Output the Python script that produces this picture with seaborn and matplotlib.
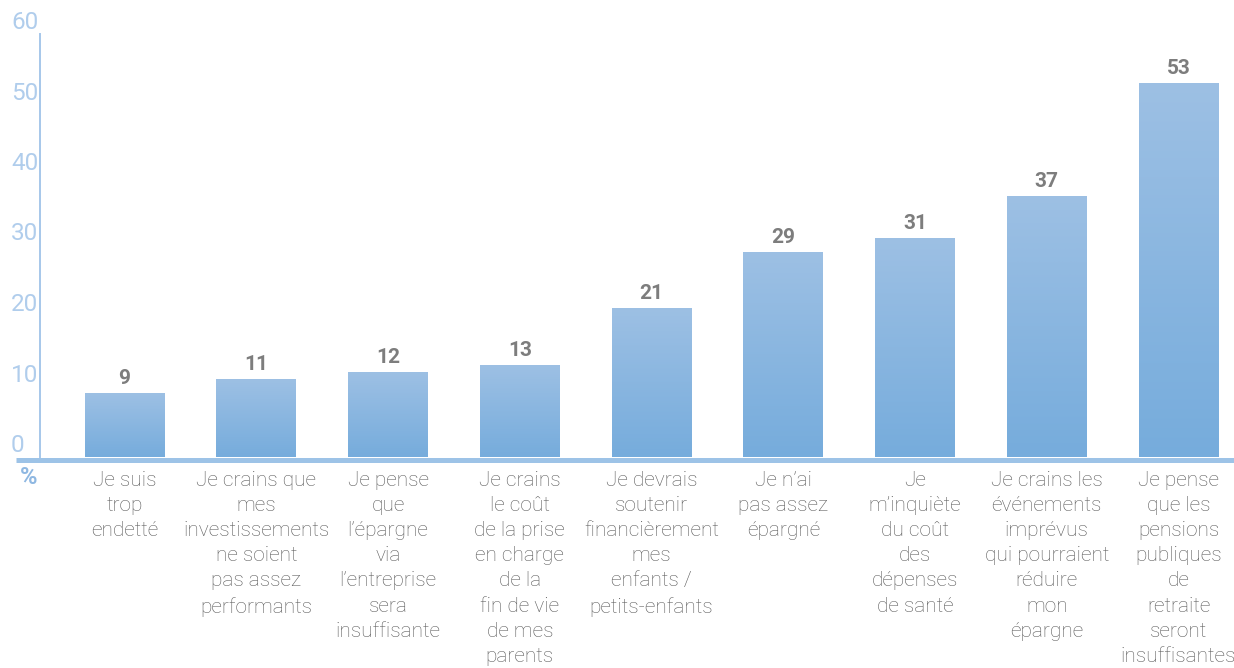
import numpy as np
import pandas as pd
import matplotlib
matplotlib.use("Agg")
import matplotlib.pyplot as plt
import seaborn as sns
from matplotlib.colors import to_rgb
from matplotlib.transforms import blended_transform_factory, ScaledTranslation

# Reasons for concern about retirement savings (% of respondents)
categories = [
    "Je suis\ntrop\nendetté",
    "Je crains que\nmes\ninvestissements\nne soient\npas assez\nperformants",
    "Je pense\nque\nl’épargne\nvia\nl’entreprise\nsera\ninsuffisante",
    "Je crains\nle coût\nde la prise\nen charge\nde la\nfin de vie\nde mes\nparents",
    "Je devrais\nsoutenir\nfinancièrement\nmes\nenfants /\npetits-enfants",
    "Je n’ai\npas assez\népargné",
    "Je\nm’inquiète\ndu coût\ndes\ndépenses\nde santé",
    "Je crains les\névénements\nimprévus\nqui pourraient\nréduire\nmon\népargne",
    "Je pense\nque les\npensions\npubliques\nde\nretraite\nseront\ninsuffisantes",
]
values = [9, 11, 12, 13, 21, 29, 31, 37, 53]
y_ticks = [0, 10, 20, 30, 40, 50, 60]
unit_label = "%"

sns.set_theme(style="white")
plt.rcParams["font.family"] = ["Roboto", "DejaVu Sans"]

W, H = 1234, 668
fig = plt.figure(figsize=(W / 100, H / 100), dpi=100)
ax_left, ax_right, ax_bottom, ax_top = 40, 1234, 457, 34
ax = fig.add_axes([ax_left / W, 1 - ax_bottom / H,
                   (ax_right - ax_left) / W, (ax_bottom - ax_top) / H])

df = pd.DataFrame({"motif": categories, "pct": values})
sns.barplot(data=df, x="motif", y="pct", width=0.607, color="#8ab6df",
            saturation=1, ax=ax)

# vertical gradient fill for every bar
top_c = np.array(to_rgb("#9dc0e4"))
bot_c = np.array(to_rgb("#76acdc"))
t = np.linspace(0, 1, 256)[:, None, None]
grad = top_c[None, None, :] * (1 - t) + bot_c[None, None, :] * t
for p in ax.patches:
    x0, w, h = p.get_x(), p.get_width(), p.get_height()
    ax.imshow(grad, extent=[x0, x0 + w, 0, h], origin="upper",
              aspect="auto", interpolation="bicubic", zorder=2)
    p.set_alpha(0)

ax.set_xlim(-0.6414, 8.421)
ax.set_ylim(0, 60)
ax.set_xlabel("")
ax.set_ylabel("")

axis_blue = "#a6c7ea"
for s in ["top", "right", "bottom"]:
    ax.spines[s].set_visible(False)
ax.spines["left"].set_color(axis_blue)
ax.spines["left"].set_linewidth(1.4)

ax.set_yticks(y_ticks)
ax.tick_params(axis="y", length=15.1, width=1.4, color=axis_blue,
               direction="out", labelleft=False)

# y tick labels sit above each tick mark, left-aligned
ylab_tr = blended_transform_factory(ax.transAxes, ax.transData) + \
    ScaledTranslation(0, 5 / 100, fig.dpi_scale_trans)
for v in y_ticks:
    ax.text((11 - ax_left) / (ax_right - ax_left), v, str(v),
            transform=ylab_tr, ha="left", va="baseline",
            fontsize=17.5, fontweight="normal", color="#b0cdec", clip_on=False)

ax.set_xticks(range(len(categories)))
ax.set_xticklabels(categories)
ax.tick_params(axis="x", length=0, pad=10, labelsize=15,
               labelcolor="#5a5a5a")
for lbl in ax.get_xticklabels():
    lbl.set_linespacing(1.41)
    lbl.set_fontweight("light")

ax.bar_label(ax.containers[0], labels=[str(v) for v in values],
             padding=4.0, fontsize=15, fontweight="bold", color="#7d7d7d")

# thick baseline under the bars, running out past the y axis
base_tr = blended_transform_factory(ax.transAxes, ax.transData) + \
    ScaledTranslation(0, -2.5 / 100, fig.dpi_scale_trans)
ax.plot([(16 - ax_left) / (ax_right - ax_left), 1], [0, 0],
        transform=base_tr, color="#9dc3e7", lw=3.6,
        solid_capstyle="butt", clip_on=False, zorder=5)

fig.text(28.5 / W, 1 - 478 / H, unit_label, ha="center", va="center",
         fontsize=17, fontweight="bold", color="#8fb8e2")

fig.savefig("out.png", dpi=100)
